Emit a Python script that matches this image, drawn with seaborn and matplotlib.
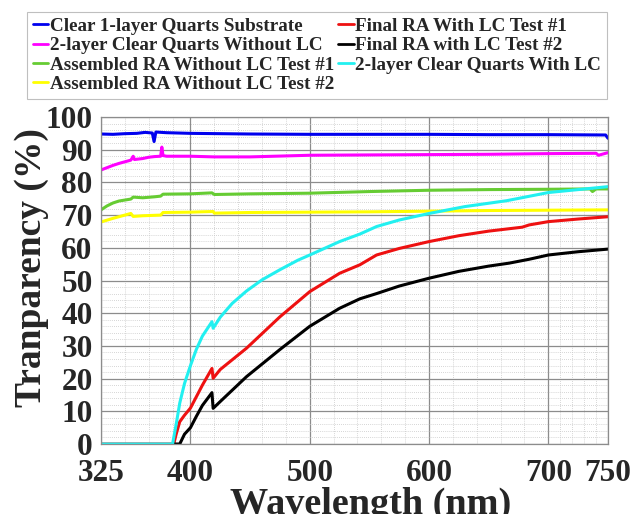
import numpy as np
import pandas as pd
import matplotlib
matplotlib.use("Agg")
import matplotlib.pyplot as plt
import seaborn as sns
from matplotlib.ticker import FixedLocator

# ---------------- data ----------------
labels = [
    "Clear 1-layer Quarts Substrate",
    "2-layer Clear Quarts Without LC",
    "Assembled RA Without LC Test #1",
    "Assembled RA Without LC Test #2",
    "Final RA With LC Test #1",
    "Final RA with LC Test #2",
    "2-layer Clear Quarts With LC",
]
colors = ["#0000ee", "#ff00ff", "#66cc33", "#ffff00", "#ee1111", "#000000", "#22f0f0"]

blue_x = [325, 335, 345, 355, 362, 368, 369.5, 371, 380, 400, 450, 500, 550, 600, 650, 700, 748, 750]
blue_y = [94.8, 94.7, 94.9, 95.0, 95.3, 95.1, 92.5, 95.4, 95.2, 95.0, 94.8, 94.7, 94.7, 94.7, 94.6, 94.6, 94.5, 93.5]

mag_x = [325, 330, 335, 340, 345, 350, 352, 353, 360, 365, 370, 375, 376, 377, 380, 400, 420, 450, 480, 500,
         550, 600, 650, 700, 740, 742, 750]
mag_y = [83.8, 84.5, 85.2, 85.8, 86.3, 86.8, 88.0, 87.0, 87.3, 87.7, 87.9, 88.0, 90.8, 88.2, 88.0, 88.0, 87.8,
         87.8, 88.1, 88.3, 88.4, 88.5, 88.6, 88.8, 88.9, 88.3, 89.1]

grn_x = [325, 330, 335, 340, 350, 352, 360, 370, 375, 377, 400, 418, 420, 450, 500, 550, 600, 650, 700, 735,
         737, 740, 750]
grn_y = [71.6, 72.8, 73.7, 74.3, 74.9, 75.5, 75.3, 75.6, 75.8, 76.4, 76.5, 76.8, 76.3, 76.5, 76.7, 77.2, 77.6,
         77.8, 77.9, 78.0, 77.2, 78.0, 78.0]

yel_x = [325, 335, 345, 350, 352, 360, 375, 377, 400, 419, 420, 450, 500, 550, 600, 650, 700, 750]
yel_y = [67.9, 69.0, 70.0, 70.5, 69.6, 69.8, 70.0, 70.8, 70.9, 71.1, 70.6, 70.8, 70.9, 71.0, 71.2, 71.4, 71.5, 71.6]

red_x = [325, 386, 388, 391, 395, 400, 405, 410, 418, 419, 425, 447, 475, 500, 525, 542, 556, 575, 600, 625,
         650, 678, 684, 700, 725, 750]
red_y = [0, 0, 3.0, 6.8, 8.8, 11.0, 14.5, 18.0, 23.1, 20.1, 22.8, 29.3, 38.9, 46.6, 52.2, 54.8, 57.8, 59.8,
         61.9, 63.7, 65.1, 66.3, 67.0, 68.0, 68.8, 69.5]

blk_x = [386, 391, 393, 395, 400, 405, 410, 418, 419, 425, 447, 475, 500, 525, 542, 556, 575, 600, 625, 650,
         667, 684, 700, 725, 750]
blk_y = [0, 0, 1.5, 3.0, 5.0, 8.5, 11.8, 15.7, 10.9, 13.0, 20.6, 28.9, 36.0, 41.5, 44.4, 46.0, 48.3, 50.7,
         52.8, 54.4, 55.3, 56.5, 57.8, 58.8, 59.6]

cyn_x = [325, 385, 388, 391, 395, 400, 405, 410, 418, 419, 425, 435, 447, 460, 475, 490, 500, 525, 542, 556,
         575, 600, 630, 665, 700, 725, 750]
cyn_y = [0, 0, 6.0, 12.5, 18.5, 24.0, 29.0, 33.0, 37.4, 35.4, 38.8, 43.0, 46.8, 50.2, 53.3, 56.2, 57.8, 61.9,
         64.2, 66.5, 68.5, 70.5, 72.6, 74.4, 76.9, 77.8, 78.7]

x_ticks = [325, 400, 500, 600, 700, 750]
y_ticks = [0, 10, 20, 30, 40, 50, 60, 70, 80, 90, 100]

series = [(blue_x, blue_y), (mag_x, mag_y), (grn_x, grn_y), (yel_x, yel_y),
          (red_x, red_y), (blk_x, blk_y), (cyn_x, cyn_y)]
frames = []
for lab, (xs, ys) in zip(labels, series):
    frames.append(pd.DataFrame({"Wavelength": xs, "T": ys, "Series": lab}))
df = pd.concat(frames, ignore_index=True)

# ---------------- style ----------------
sns.set_style("white")
plt.rcParams["font.family"] = ["Liberation Serif", "DejaVu Serif"]
plt.rcParams["font.weight"] = "bold"

fig = plt.figure(figsize=(6.34, 5.14), dpi=100)
ax = fig.add_axes([101 / 634, 1 - 444 / 514, (608 - 101) / 634, (444 - 117) / 514])

sns.lineplot(data=df, x="Wavelength", y="T", hue="Series", hue_order=labels,
             palette=dict(zip(labels, colors)), estimator=None, sort=False,
             linewidth=2.2, ax=ax, legend=True)

ax.set_xlim(325, 750)
ax.set_ylim(0, 100)
ax.xaxis.set_major_locator(FixedLocator(x_ticks))
ax.yaxis.set_major_locator(FixedLocator(y_ticks))
minor_x = [345, 365, 385, 420, 440, 460, 480, 520, 540, 560, 580, 620, 640, 660, 680, 710, 720, 730, 740]
ax.xaxis.set_minor_locator(FixedLocator(minor_x))
ax.yaxis.set_minor_locator(FixedLocator(list(range(0, 101, 2))))

ax.grid(True, which="major", color="#8c8c8c", linewidth=0.9, linestyle="-")
ax.grid(True, which="minor", color="#c8c8c8", linewidth=0.6, linestyle=(0, (1, 1.5)))
ax.set_axisbelow(True)
for s in ax.spines.values():
    s.set_color("#8c8c8c")
    s.set_linewidth(0.9)

ax.tick_params(axis="both", which="both", length=0, labelsize=22.5)
ax.tick_params(axis="y", pad=6)
ax.tick_params(axis="x", pad=10.5)
for lab in ax.get_xticklabels() + ax.get_yticklabels():
    lab.set_fontweight("bold")

ax.set_xlabel("")
ax.set_ylabel("Tranparency (%)", fontsize=27, fontweight="bold")
ax.yaxis.set_label_coords(-0.102, 0.54)
fig.text(371 / 634, 1 - 514 / 514, "Wavelength (nm)", fontsize=27.5, fontweight="bold",
         ha="center", va="baseline")

handles, labs = ax.get_legend_handles_labels()
ax.get_legend().remove()
leg = fig.legend(handles, labs, loc="upper left", ncol=2,
                 bbox_to_anchor=(27 / 634, 1 - 12 / 514),
                 prop={"family": ["Liberation Serif"], "weight": "bold", "size": 13.8},
                 frameon=True, fancybox=False, edgecolor="#b0b0b0",
                 handlelength=0.8, handletextpad=0.1, columnspacing=0.2,
                 labelspacing=0.1, borderpad=0.3, borderaxespad=0)
leg.get_frame().set_linewidth(0.8)
for h in leg.get_lines():
    h.set_linewidth(2.0)

fig.savefig("out.png", dpi=100)
